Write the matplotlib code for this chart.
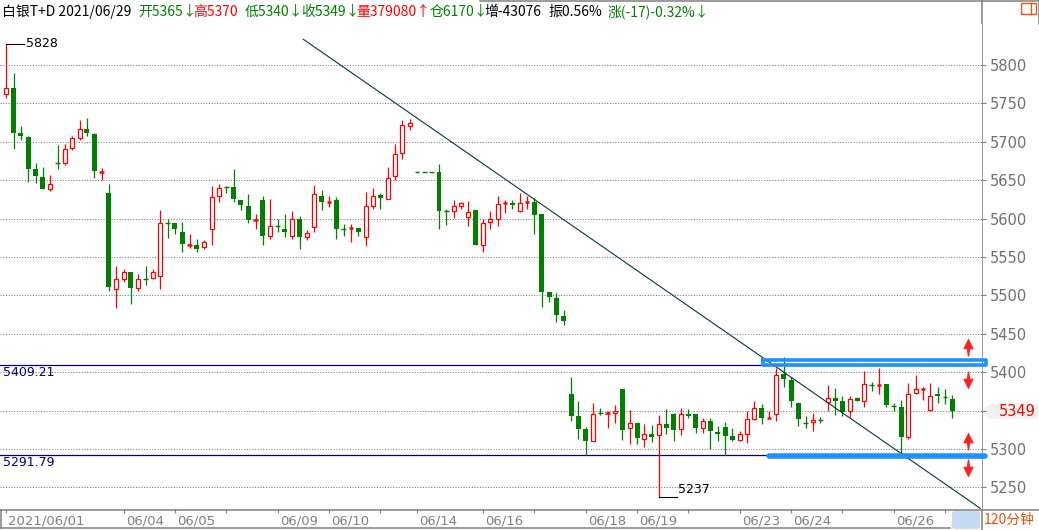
import numpy as np
import matplotlib.pyplot as plt
import matplotlib.transforms as mtransforms
from matplotlib.path import Path
from matplotlib.patches import Polygon, Rectangle, FancyBboxPatch

plt.rcParams['font.family'] = ['DejaVu Sans']

# 白银T+D 120-minute bars, first block (06/01 - 06/11)
open1 = [5762, 5770, 5711, 5706, 5665, 5654, 5638, 5672, 5673, 5692,
         5705, 5717, 5710, 5661, 5633, 5509, 5522, 5530, 5510, 5521,
         5523, 5525, 5594, 5594, 5583, 5566, 5566, 5563, 5586, 5630,
         5641, 5641, 5624, 5617, 5598, 5624, 5578, 5590, 5587, 5578,
         5599, 5576, 5589, 5630, 5622, 5624, 5587, 5588, 5588, 5576,
         5617, 5631, 5626, 5655, 5685, 5721]
high1 = [5828, 5789, 5721, 5708, 5672, 5667, 5657, 5696, 5697, 5707,
         5728, 5731, 5712, 5666, 5645, 5538, 5534, 5530, 5528, 5538,
         5534, 5611, 5599, 5594, 5595, 5580, 5573, 5572, 5642, 5645,
         5643, 5665, 5624, 5632, 5606, 5630, 5626, 5599, 5606, 5610,
         5603, 5585, 5644, 5637, 5629, 5628, 5593, 5593, 5588, 5635,
         5640, 5634, 5667, 5697, 5728, 5730]
low1 = [5757, 5690, 5702, 5648, 5646, 5638, 5636, 5665, 5670, 5689,
        5703, 5708, 5653, 5650, 5506, 5484, 5518, 5489, 5506, 5513,
        5521, 5509, 5575, 5580, 5557, 5562, 5556, 5560, 5566, 5621,
        5633, 5622, 5611, 5594, 5587, 5565, 5574, 5582, 5576, 5573,
        5561, 5572, 5582, 5611, 5615, 5574, 5578, 5569, 5578, 5564,
        5612, 5613, 5626, 5650, 5677, 5715]
close1 = [5770, 5711, 5708, 5664, 5655, 5638, 5645, 5671, 5690, 5705,
          5717, 5711, 5662, 5663, 5511, 5521, 5530, 5510, 5521, 5520,
          5530, 5594, 5593, 5586, 5567, 5566, 5561, 5570, 5628, 5640,
          5640, 5626, 5618, 5598, 5600, 5578, 5590, 5589, 5582, 5599,
          5576, 5581, 5632, 5622, 5623, 5587, 5586, 5588, 5582, 5616,
          5629, 5627, 5653, 5684, 5722, 5725]

# second block (06/15 - 06/29)
open2 = [5661, 5610, 5610, 5617, 5602, 5611, 5565, 5595, 5599, 5620,
         5620, 5610, 5621, 5622, 5606, 5505, 5496, 5473, 5372, 5343,
         5326, 5311, 5347, 5347, 5347, 5378, 5327, 5334, 5313, 5319,
         5318, 5333, 5346, 5326, 5346, 5346, 5328, 5337, 5322, 5329,
         5317, 5312, 5320, 5339, 5353, 5340, 5346, 5398, 5390, 5360,
         5334, 5335, 5338, 5361, 5367, 5363, 5350, 5366, 5363, 5384,
         5384, 5385, 5356, 5355, 5316, 5373, 5378, 5351, 5372, 5368, 5365]
high2 = [5671, 5612, 5624, 5621, 5623, 5611, 5600, 5610, 5630, 5624,
         5624, 5633, 5630, 5627, 5606, 5505, 5503, 5481, 5394, 5363,
         5329, 5360, 5354, 5349, 5357, 5378, 5351, 5334, 5332, 5331,
         5344, 5352, 5347, 5354, 5352, 5346, 5340, 5340, 5330, 5335,
         5328, 5323, 5350, 5363, 5358, 5350, 5405, 5420, 5394, 5361,
         5343, 5347, 5342, 5384, 5379, 5369, 5369, 5368, 5402, 5387,
         5406, 5385, 5360, 5364, 5386, 5396, 5381, 5386, 5381, 5378, 5370]
low2 = [5587, 5592, 5601, 5613, 5591, 5565, 5557, 5587, 5591, 5607,
        5613, 5608, 5612, 5580, 5485, 5491, 5465, 5462, 5336, 5313,
        5292, 5311, 5344, 5328, 5334, 5312, 5306, 5307, 5303, 5309,
        5237, 5320, 5311, 5318, 5340, 5321, 5321, 5300, 5310, 5292,
        5310, 5310, 5308, 5338, 5333, 5340, 5337, 5381, 5355, 5330,
        5328, 5324, 5334, 5349, 5344, 5343, 5342, 5363, 5355, 5376,
        5371, 5355, 5349, 5295, 5313, 5372, 5364, 5350, 5360, 5358, 5340]
close2 = [5610, 5609, 5616, 5620, 5608, 5565, 5594, 5599, 5619, 5622,
          5618, 5620, 5621, 5605, 5505, 5498, 5475, 5467, 5343, 5326,
          5311, 5346, 5346, 5347, 5350, 5325, 5334, 5314, 5320, 5316,
          5333, 5328, 5325, 5346, 5343, 5328, 5337, 5323, 5319, 5317,
          5312, 5319, 5339, 5354, 5340, 5341, 5397, 5391, 5362, 5339,
          5333, 5338, 5337, 5367, 5363, 5348, 5365, 5363, 5385, 5383,
          5384, 5357, 5355, 5315, 5372, 5378, 5378, 5369, 5369, 5367, 5349]

holiday_slots = [56, 57, 58]
holiday_price = 5661

tick_idx = [0, 16, 23, 30, 37, 44, 51, 56, 65, 72, 79, 86, 93, 100, 107, 114, 121, 128]
tick_labels = ['2021/06/01', '06/04', '06/05', '', '06/09', '06/10', '', '06/14', '06/16', '',
               '06/18', '06/19', '', '06/23', '06/24', '', '06/26', '']
grid_levels = [5250, 5300, 5350, 5400, 5450, 5500, 5550, 5600, 5650, 5700, 5750, 5800]

level_hi = 5409.21
level_lo = 5291.79
trend_x = [40.5, 132.8]
trend_y = [5833.5, 5222.8]
arrow_x = 131.1
arrow_up = [5433, 5310]
arrow_down = [5390, 5275]

header = [(2, '白银T+D 2021/06/29', 'black'), (138, '开5365↓', '#008000'),
          (193, '高5370', '#ff0000'), (245, '低5340↓', '#008000'),
          (301, '收5349↓', '#008000'), (356, '量379080↑', '#ff0000'),
          (430, '仓6170↓', '#008000'), (484, '增-43076', 'black'),
          (548, '振0.56%', 'black'), (608, '涨(-17)-0.32%↓', '#008000')]

RED = '#ff0000'
GREEN = '#008000'
cjk = ['Noto Sans CJK SC', 'DejaVu Sans']

W, H = 1039, 530
fig = plt.figure(figsize=(W / 100, H / 100), dpi=100)
ax = fig.add_axes([0, 21 / H, 981.7 / W, 485 / H])
ax.set_xlim(-0.86, 133.0)
ax.set_ylim(5221.9, 5853.4)
for s in ax.spines.values():
    s.set_visible(False)

for lv in grid_levels:
    ax.axhline(lv, color='#7a7a7a', lw=0.75, ls=(0, (1, 1.6)), zorder=1)

# candles
idx = list(range(0, 56)) + list(range(59, 130))
O = open1 + open2
Hh = high1 + high2
L = low1 + low2
C = close1 + close2
for x, o, h, l, c in zip(idx, O, Hh, L, C):
    if c >= o:
        if c - o <= 2:
            ax.vlines(x, l, h, color=RED, lw=0.9, zorder=3)
            ax.hlines(o, x - 0.33, x + 0.33, color=RED, lw=1.8, zorder=3)
        else:
            ax.vlines(x, l, o, color=RED, lw=0.9, zorder=3)
            ax.vlines(x, c, h, color=RED, lw=0.9, zorder=3)
            ax.bar(x, c - o, bottom=o, width=0.56, facecolor='white',
                   edgecolor=RED, linewidth=0.9, zorder=3)
    else:
        ax.vlines(x, l, h, color=GREEN, lw=0.9, zorder=3)
        if o - c <= 1.5:
            ax.hlines(o, x - 0.33, x + 0.33, color=GREEN, lw=1.0, zorder=3)
        else:
            ax.bar(x, o - c, bottom=c, width=0.68, color=GREEN, linewidth=0, zorder=3)

for x in holiday_slots:
    ax.hlines(holiday_price, x - 0.3, x + 0.3, color=GREEN, lw=1.0, zorder=3)

# trend line and support / resistance levels
ax.plot(trend_x, trend_y, color='#083838', lw=0.8, zorder=4, clip_on=False)
ax.axhline(level_hi, color='#000080', lw=0.9, zorder=2)
ax.axhline(level_lo, color='#000080', lw=0.9, zorder=2)
bt = mtransforms.blended_transform_factory(ax.transAxes, ax.transData)
ax.text(0.003, level_hi - 1, f'{level_hi:.2f}', transform=bt, va='top', ha='left',
        color='#000080', fontsize=9)
ax.text(0.003, level_lo - 1, f'{level_lo:.2f}', transform=bt, va='top', ha='left',
        color='#000080', fontsize=9)

# blue highlight boxes
bx = [103.2, 133.6, 133.6, 103.2, 103.2]
by = [5416.4, 5416.4, 5409.9, 5409.9, 5416.4]
ax.plot(bx, by, color='#1e90ff', lw=2.6, solid_joinstyle='round', zorder=5, clip_on=False)
ax.plot([104.0, 133.4], [level_lo - 0.5, level_lo - 0.5], color='#1e90ff', lw=4.0,
        solid_capstyle='round', zorder=5, clip_on=False)

# red arrows
up = Path([(0, 1), (0.6, -0.2), (0.18, -0.2), (0.07, -1), (-0.07, -1),
           (-0.18, -0.2), (-0.6, -0.2), (0, 1)])
down = Path([(0, -1), (0.6, 0.2), (0.18, 0.2), (0.07, 1), (-0.07, 1),
             (-0.18, 0.2), (-0.6, 0.2), (0, -1)])
ax.plot([arrow_x] * len(arrow_up), arrow_up, ls='none', marker=up, ms=13,
        color='#ff2020', mec='none', zorder=6)
ax.plot([arrow_x] * len(arrow_down), arrow_down, ls='none', marker=down, ms=13,
        color='#ff2020', mec='none', zorder=6)

# max / min marks
i_max = int(np.argmax(Hh))
i_min = int(np.argmin(L))
ax.plot([idx[i_max], idx[i_max] + 2.4], [Hh[i_max]] * 2, color='black', lw=0.8, zorder=4)
ax.text(idx[i_max] + 2.65, Hh[i_max], str(Hh[i_max]), va='center', fontsize=9)
ax.plot([idx[i_min], idx[i_min] + 2.4], [L[i_min]] * 2, color='black', lw=0.8, zorder=4)
ax.text(idx[i_min] + 2.65, L[i_min] + 2, str(L[i_min]), va='bottom', fontsize=9)

# axes ticks
ax.yaxis.tick_right()
ax.set_yticks(grid_levels)
ax.set_yticklabels(['' if v == 5350 else str(v) for v in grid_levels])
ax.tick_params(axis='y', direction='out', length=3, width=0.8, color='#808080',
               pad=3, labelsize=10.5, labelcolor='#707070')
ax.set_xticks(tick_idx)
ax.set_xticklabels(tick_labels, ha='left', fontsize=9.5, color='#808080')
ax.tick_params(axis='x', direction='out', length=3, width=0.8, color='#808080', pad=1)
off = mtransforms.ScaledTranslation(1.5 / 72, 0, fig.dpi_scale_trans)
for lab in ax.get_xticklabels():
    lab.set_transform(lab.get_transform() + off)

# overlay in pixel units for frame, header and side boxes
ov = fig.add_axes([0, 0, 1, 1], zorder=-1)
ov.set_xlim(0, W)
ov.set_ylim(H, 0)
ov.axis('off')
gc = '#808080'
ov.plot([981.5, 981.5], [0, H], color=gc, lw=1.1)
ov.plot([0, W], [509.5, 509.5], color=gc, lw=1.1)
ov.plot([0, 950], [527.5, 527.5], color=gc, lw=1.1)
ov.plot([480, W], [0.5, 0.5], color=gc, lw=1.1)
ov.plot([1038.5, 1038.5], [0, 24], color=gc, lw=1.1)
ov.plot([0.5, 0.5], [509, 528], color=gc, lw=1.1)

for x, t, col in header:
    ov.text(x, 12, t, color=col, fontsize=10, family=cjk, va='center', ha='left')

ov.add_patch(Rectangle((1020.5, 2.5), 15, 11, fill=False, ec='#e05a1a', lw=1))
ov.plot([1030.5, 1030.5], [2.5, 13.5], color='#e05a1a', lw=1)

last = C[-1]
py = H - ax.transData.transform((0, last))[1]
ov.add_patch(Polygon([(982.5, py), (990, py - 7.5), (1038, py - 7.5), (1038, py + 7.5),
                      (990, py + 7.5)], closed=True, fc='#edf4ed', ec='none'))
ov.text(1036, py, str(last), color='red', fontsize=10.5, ha='right', va='center')

ov.add_patch(FancyBboxPatch((952, 511), 28, 18, boxstyle='round,pad=0,rounding_size=3',
                            fc='#c5dbf3', ec='none'))
ov.text(984, 519.5, '120分钟', color='#e8500a', fontsize=10, family=cjk, va='center', ha='left')

fig.savefig('out.png', dpi=100)
